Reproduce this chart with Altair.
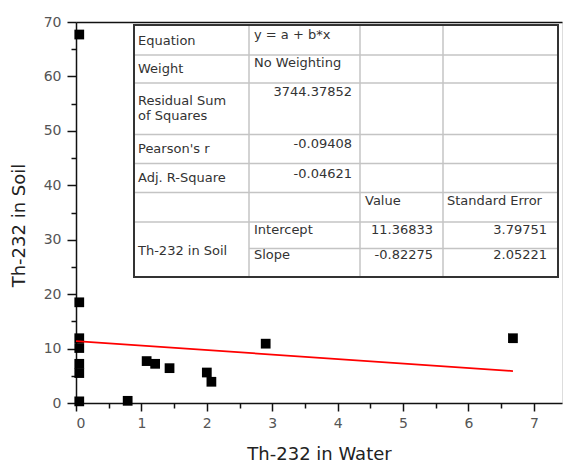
import altair as alt
import pandas as pd

# ---------------- data ----------------
WATER = [0.05, 0.05, 0.05, 0.05, 0.05, 0.05, 0.05, 0.79, 1.08, 1.21, 1.43, 2.00, 2.07, 2.90, 6.68]
SOIL = [67.7, 18.5, 11.9, 10.1, 7.2, 5.5, 0.3, 0.4, 7.7, 7.2, 6.4, 5.6, 3.9, 10.9, 11.9]
INTERCEPT = 11.36833
SLOPE = -0.82275

X_TICKS = [0, 1, 2, 3, 4, 5, 6, 7]
X_MINOR = [0.5, 1.5, 2.5, 3.5, 4.5, 5.5, 6.5]
Y_TICKS = [0, 10, 20, 30, 40, 50, 60, 70]
Y_MINOR = [5, 15, 25, 35, 45, 55, 65]

X_TITLE = "Th-232 in Water"
Y_TITLE = "Th-232 in Soil"

# table texts
ROW_LABELS = ["Equation", "Weight", "Residual Sum", "of Squares", "Pearson's r", "Adj. R-Square", "Th-232 in Soil"]
TOP_TEXT = ["y = a + b*x", "No Weighting"]
STATS = ["3744.37852", "-0.09408", "-0.04621"]
PARAM_NAMES = ["Intercept", "Slope"]
HEADERS = ["Value", "Standard Error"]
VALUES = ["11.36833", "-0.82275"]
ERRORS = ["3.79751", "2.05221"]

# ---------------- layout (pixels, relative to plot area) ----------------
W, H = 486, 381
TCOLS = [58, 173, 284, 367, 482]
TROWS = [3, 33, 61, 112.5, 141.5, 170.5, 200, 226.5, 255]
ROW_LABEL_Y = [19, 47, 79, 94, 127, 156, 229]
TOP_TEXT_Y = [7, 35]
STATS_Y = [64, 116, 146]
HEADER_Y = 173
PARAM_Y = [202, 227]

FONT = "DejaVu Sans"
TXT = "#333333"

xscale = alt.Scale(domain=[0, 7.43], nice=False, zero=False)
yscale = alt.Scale(domain=[0, 70], nice=False, zero=False)

df = pd.DataFrame({"water": WATER, "soil": SOIL})
xmax = max(WATER)
fit = pd.DataFrame({"xf": [0, xmax], "yf": [INTERCEPT, INTERCEPT + SLOPE * xmax]})

major_x = alt.Axis(orient="bottom", values=X_TICKS, format="d", grid=False,
                   tickSize=8, tickWidth=1.5, tickColor="#111", domainColor="#111", domainWidth=1.5,
                   labelFont=FONT, labelFontSize=14, labelColor="#555", labelPadding=5,
                   title=X_TITLE, titleFont=FONT, titleFontSize=18, titleFontWeight="normal",
                   titleColor="#222", titlePadding=15)
major_y = alt.Axis(orient="left", values=Y_TICKS, format="d", grid=False,
                   tickSize=9, tickWidth=1.5, tickColor="#111", domainColor="#111", domainWidth=1.5,
                   labelFont=FONT, labelFontSize=14, labelColor="#555", labelPadding=6,
                   title=Y_TITLE, titleFont=FONT, titleFontSize=18, titleFontWeight="normal",
                   titleColor="#222", titlePadding=15, titleY=203)
minor_x = alt.Axis(orient="bottom", values=X_MINOR, labels=False, domain=False, grid=False,
                   tickSize=5, tickWidth=1.5, tickColor="#111", title=None)
minor_y = alt.Axis(orient="left", values=Y_MINOR, labels=False, domain=False, grid=False,
                   tickSize=5, tickWidth=1.5, tickColor="#111", title=None)
top_x = alt.Axis(orient="top", values=[], labels=False, ticks=False, domain=True, grid=False,
                 domainColor="#111", domainWidth=1.5, title=None)

# table geometry frames
lines = []
for cx in TCOLS[1:-1]:
    lines.append({"x": cx, "x2": cx, "y": TROWS[0], "y2": TROWS[-1]})
for ry in TROWS[1:-2]:
    lines.append({"x": TCOLS[0], "x2": TCOLS[-1], "y": ry, "y2": ry})
lines.append({"x": TCOLS[1], "x2": TCOLS[-1], "y": TROWS[-2], "y2": TROWS[-2]})
lines_df = pd.DataFrame(lines)
box_df = pd.DataFrame([{"x": TCOLS[0], "x2": TCOLS[-1], "y": TROWS[0], "y2": TROWS[-1]}])

def pix(field):
    return alt.X(f"{field}:Q", scale=None, axis=None)

def piy(field):
    return alt.Y(f"{field}:Q", scale=None, axis=None)

box_fill = alt.Chart(box_df).mark_rect(fill="white", stroke=None).encode(
    x=pix("x"), x2="x2:Q", y=piy("y"), y2="y2:Q")
inner = alt.Chart(lines_df).mark_rule(color="#c4c4c4", strokeWidth=1.5).encode(
    x=pix("x"), x2="x2:Q", y=piy("y"), y2="y2:Q")
box_line = alt.Chart(box_df).mark_rect(fill=None, stroke="#333", strokeWidth=2).encode(
    x=pix("x"), x2="x2:Q", y=piy("y"), y2="y2:Q")

def text_layer(texts, xs, ys, align, baseline):
    d = pd.DataFrame({"t": texts, "px": xs, "py": ys})
    return alt.Chart(d).mark_text(align=align, baseline=baseline, font=FONT, fontSize=13,
                                  color=TXT).encode(x=pix("px"), y=piy("py"), text="t:N")

t1 = text_layer(ROW_LABELS, [TCOLS[0] + 4] * len(ROW_LABELS), ROW_LABEL_Y, "left", "middle")
t2 = text_layer(TOP_TEXT + PARAM_NAMES, [TCOLS[1] + 5] * 4, TOP_TEXT_Y + PARAM_Y, "left", "top")
t3 = text_layer(STATS, [TCOLS[2] - 8] * 3, STATS_Y, "right", "top")
t4 = text_layer(HEADERS, [TCOLS[2] + 5, TCOLS[3] + 4], [HEADER_Y] * 2, "left", "top")
t5 = text_layer(VALUES, [TCOLS[3] - 10] * 2, PARAM_Y, "right", "top")
t6 = text_layer(ERRORS, [TCOLS[4] - 11] * 2, PARAM_Y, "right", "top")

points = alt.Chart(df).mark_square(size=95, color="black", opacity=1).encode(
    x=alt.X("water:Q", scale=xscale, axis=major_x),
    y=alt.Y("soil:Q", scale=yscale, axis=major_y))
minor = alt.Chart(df).mark_point(opacity=0).encode(
    x=alt.X("water:Q", scale=xscale, axis=minor_x),
    y=alt.Y("soil:Q", scale=yscale, axis=minor_y))
fitline = alt.Chart(fit).mark_line(color="#ff0000", strokeWidth=1.8).encode(
    x=alt.X("xf:Q", scale=xscale, axis=top_x),
    y=alt.Y("yf:Q", scale=yscale, axis=None))

chart = alt.layer(points, minor, fitline, box_fill, inner, box_line, t1, t2, t3, t4, t5, t6).resolve_axis(
    x="independent", y="independent"
).properties(
    width=W, height=H,
    autosize="none",
    padding={"left": 76, "top": 22, "right": 1, "bottom": 61},
).configure_view(stroke=None).configure(background="white")

chart.save("out.html", embed_options={"renderer": "svg", "actions": False})
